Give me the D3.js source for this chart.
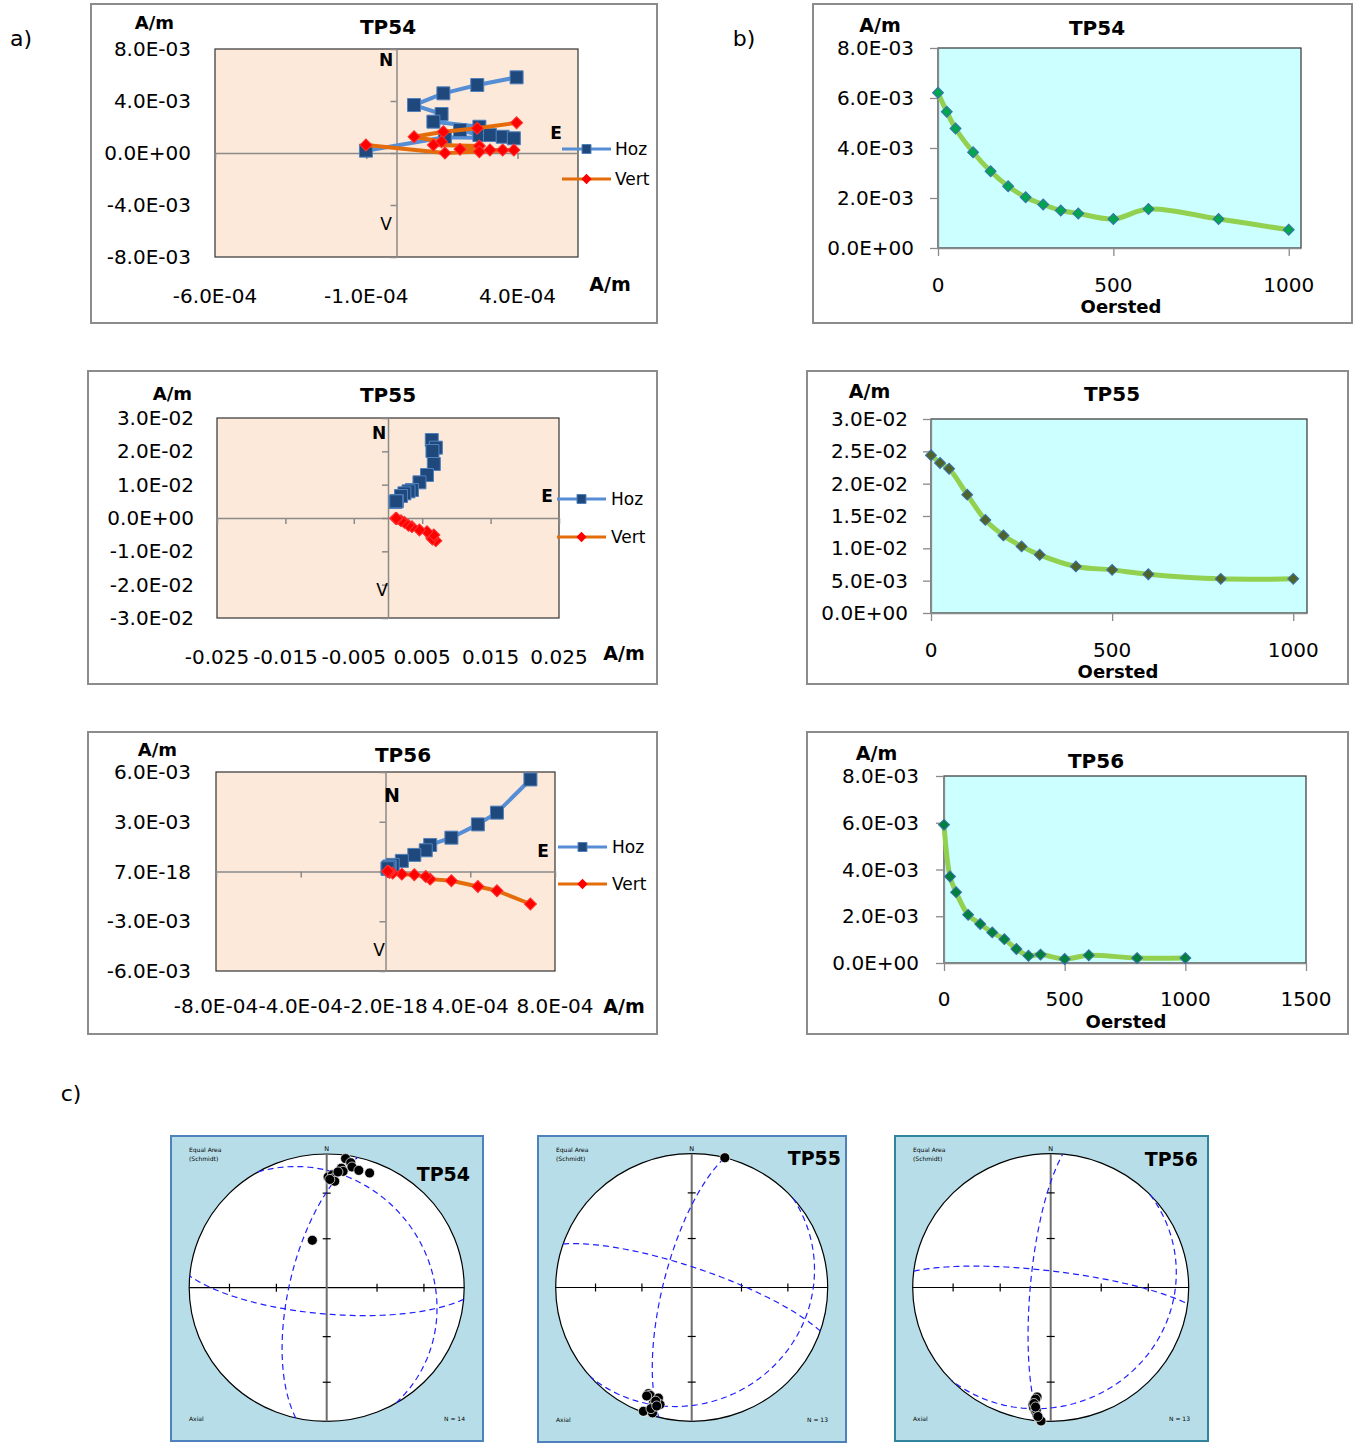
<!DOCTYPE html>
<html>
<head>
<meta charset="utf-8">
<script src="https://cdn.jsdelivr.net/npm/d3@7"></script>
<style>
  body { margin: 0; background: #fff; }
  text { font-family: "DejaVu Sans", sans-serif; fill: #000; }
</style>
</head>
<body>
<div class="chart"></div>
<script>
//----- a) Zijderveld data, A/m (one entry per demag step) -----
const tp54East  = [3.97e-4, 2.67e-4, 1.55e-4, 0.58e-4, 1.49e-4, 1.22e-4, 2.74e-4, 2.10e-4, 2.74e-4, 3.09e-4, 3.51e-4, 3.88e-4, 1.60e-4, -1.01e-4]
const tp54North = [5.82e-3, 5.23e-3, 4.59e-3, 3.69e-3, 3.00e-3, 2.41e-3, 2.02e-3, 1.77e-3, 1.38e-3, 1.38e-3, 1.25e-3, 1.13e-3, 1.21e-3, 0.18e-3]
const tp54Vert  = [2.33e-3, 1.90e-3, 1.64e-3, 1.25e-3, 0.87e-3, 0.62e-3, 0.54e-3, 0.28e-3, 0.10e-3, 0.23e-3, 0.23e-3, 0.23e-3, 0.0, 0.62e-3]

const tp55East  = [0.0064, 0.0070, 0.0065, 0.0067, 0.0057, 0.0046, 0.0035, 0.0030, 0.0024, 0.0019, 0.0013, 0.0011, 0.0012]
const tp55North = [0.0234, 0.0211, 0.0201, 0.0162, 0.0129, 0.0107, 0.0084, 0.0080, 0.0074, 0.0066, 0.0051, 0.0048, 0.0050]
const tp55Vert  = [-0.0060, -0.0068, -0.0063, -0.0051, -0.0041, -0.0036, -0.0026, -0.0022, -0.0013, -0.0008, -0.0002, -0.0001, -0.0001]

const tp56East  = [6.84e-4, 5.26e-4, 4.36e-4, 3.11e-4, 2.11e-4, 1.90e-4, 1.36e-4, 0.77e-4, 0.34e-4, 0.20e-4, 0.10e-4, 0.16e-4, 0.10e-4]
const tp56North = [5.55e-3, 3.55e-3, 2.84e-3, 2.04e-3, 1.60e-3, 1.28e-3, 1.00e-3, 0.64e-3, 0.40e-3, 0.30e-3, 0.15e-3, 0.28e-3, 0.20e-3]
const tp56Vert  = [-1.96e-3, -1.16e-3, -0.90e-3, -0.56e-3, -0.46e-3, -0.30e-3, -0.20e-3, -0.16e-3, -0.10e-3, -0.05e-3, 0.0, -0.02e-3, 0.02e-3]

//----- b) intensity vs AF field -----
const tp54Field = [0, 25, 50, 100, 150, 200, 250, 300, 350, 400, 500, 600, 800, 1000]
const tp54Int   = [6.21e-3, 5.45e-3, 4.78e-3, 3.83e-3, 3.07e-3, 2.47e-3, 2.03e-3, 1.74e-3, 1.50e-3, 1.38e-3, 1.16e-3, 1.56e-3, 1.16e-3, 0.73e-3]
const tp55Field = [0, 25, 50, 100, 150, 200, 250, 300, 400, 500, 600, 800, 1000]
const tp55Int   = [2.44e-2, 2.32e-2, 2.23e-2, 1.83e-2, 1.44e-2, 1.20e-2, 1.03e-2, 0.90e-2, 0.72e-2, 0.667e-2, 0.60e-2, 0.528e-2, 0.528e-2]
const tp56Field = [0, 25, 50, 100, 150, 200, 250, 300, 350, 400, 500, 600, 800, 1000]
const tp56Int   = [5.91e-3, 3.70e-3, 3.03e-3, 2.06e-3, 1.67e-3, 1.31e-3, 1.02e-3, 0.60e-3, 0.31e-3, 0.36e-3, 0.17e-3, 0.33e-3, 0.21e-3, 0.21e-3]

//----- c) stereonet directions (dec, inc) and planes (dip direction, dip) -----
const tp54Dec = [8.1, 10.6, 11.5, 6.8, 7.8, 14.9, 20.0, 0.7, 2.8, 3.2, 4.2, 1.6, 5.4, 343.6]
const tp54Inc = [2.8, 5.5, 8.7, 10.9, 13.2, 10.1, 9.6, 18.3, 16.6, 19.5, 21.3, 20.1, 14.1, 59.7]
const tp55Dec = [14.1, 201.9, 200.8, 196.5, 198.0, 194.9, 197.9, 201.0, 197.1, 197.3, 202.2, 198.3, 196.2]
const tp55Inc = [0.0, 15.6, 14.9, 14.9, 9.6, 10.4, 6.8, 1.0, 2.2, 12.0, 13.5, 5.2, 8.6]
const tp56Dec = [186.9, 187.8, 188.4, 187.8, 186.8, 186.0, 185.1, 184.0, 187.5, 188.0, 186.5, 185.5, 187.0]
const tp56Inc = [18.7, 15.2, 12.5, 10.0, 7.6, 5.0, 2.4, 0.0, 17.0, 13.5, 8.8, 3.6, 11.0]
const tp54DipDir = [60, 185, 283]
const tp54Dip    = [25, 74, 68]
const tp55DipDir = [284, 19, 138]
const tp55Dip    = [73, 78, 17]
const tp56DipDir = [275, 7, 136]
const tp56Dip    = [78, 80, 15]

//----- tick values and labels as printed -----
const tp54ZxTicks = [-6e-4, -1e-4, 4e-4]
const tp54ZxLabels = ['-6.0E-04', '-1.0E-04', '4.0E-04']
const tp54ZyTicks = [-8e-3, -4e-3, 0, 4e-3, 8e-3]
const tp54ZyLabels = ['-8.0E-03', '-4.0E-03', '0.0E+00', '4.0E-03', '8.0E-03']
const tp55ZxTicks = [-0.025, -0.015, -0.005, 0.005, 0.015, 0.025]
const tp55ZxLabels = ['-0.025', '-0.015', '-0.005', '0.005', '0.015', '0.025']
const tp55ZyTicks = [-0.03, -0.02, -0.01, 0, 0.01, 0.02, 0.03]
const tp55ZyLabels = ['-3.0E-02', '-2.0E-02', '-1.0E-02', '0.0E+00', '1.0E-02', '2.0E-02', '3.0E-02']
const tp56ZxTicks = [-8e-4, -4e-4, 0, 4e-4, 8e-4]
const tp56ZxLabels = ['-8.0E-04', '-4.0E-04', '-2.0E-18', '4.0E-04', '8.0E-04']
const tp56ZyTicks = [-6e-3, -3e-3, 0, 3e-3, 6e-3]
const tp56ZyLabels = ['-6.0E-03', '-3.0E-03', '7.0E-18', '3.0E-03', '6.0E-03']

const demagYTicks8 = [0, 2e-3, 4e-3, 6e-3, 8e-3]
const demagYLabels8 = ['0.0E+00', '2.0E-03', '4.0E-03', '6.0E-03', '8.0E-03']
const demagYTicks3 = [0, 0.005, 0.01, 0.015, 0.02, 0.025, 0.03]
const demagYLabels3 = ['0.0E+00', '5.0E-03', '1.0E-02', '1.5E-02', '2.0E-02', '2.5E-02', '3.0E-02']
const demagXTicks = [0, 500, 1000]
const demagXTicks15 = [0, 500, 1000, 1500]

//Create svg
const svg = d3.select('.chart').append('svg')
  .attr('width', 1356)
  .attr('height', 1447)
const rad = Math.PI / 180

function frame(f, stroke, fill) {
  svg.append('rect')
    .attr('x', f[0]).attr('y', f[1])
    .attr('width', f[2] - f[0]).attr('height', f[3] - f[1])
    .attr('fill', fill).attr('stroke', stroke).attr('stroke-width', 2)
}

function label(x, y, txt, size, weight, anchor) {
  return svg.append('text')
    .attr('x', x).attr('y', y)
    .attr('font-size', size)
    .attr('font-weight', weight || 'normal')
    .attr('text-anchor', anchor || 'middle')
    .attr('dominant-baseline', 'central')
    .text(txt)
}

//squares; diamonds are the same square turned 45 degrees
function marker(g, size, fill, stroke) {
  return g.append('path')
    .attr('d', d3.symbol(d3.symbolSquare, size)())
    .attr('fill', fill)
    .attr('stroke', stroke)
    .attr('stroke-width', 1)
}

//----- Zijderveld plot -----
function zijderveld(c) {
  frame(c.frame, '#8c8c8c', '#fff')
  const [px0, py0, px1, py1] = c.plot
  const x = d3.scaleLinear().domain(c.xDomain).range([px0, px1])
  const y = d3.scaleLinear().domain(c.yDomain).range([py1, py0])

  svg.append('rect')
    .attr('x', px0).attr('y', py0)
    .attr('width', px1 - px0).attr('height', py1 - py0)
    .attr('fill', '#fde9d9').attr('stroke', '#333').attr('stroke-width', 1.2)

  //axes through the origin
  const gx = svg.append('g')
    .attr('transform', `translate(0,${y(0)})`)
    .call(d3.axisBottom(x).tickValues(c.xTicks).tickFormat(() => '').tickSize(6).tickSizeOuter(0))
  const gy = svg.append('g')
    .attr('transform', `translate(${x(0)},0)`)
    .call(d3.axisLeft(y).tickValues(c.yTicks).tickFormat(() => '').tickSize(6).tickSizeOuter(0))
  gx.selectAll('path,line').attr('stroke', '#8a8a8a').attr('stroke-width', 1.5)
  gy.selectAll('path,line').attr('stroke', '#8a8a8a').attr('stroke-width', 1.5)

  //tick labels sit on the outer edge like in Excel
  c.yTicks.forEach((d, i) => label(c.yLabelX, y(d), c.yLabels[i], 20, 'normal', 'end'))
  c.xTicks.forEach((d, i) => label(x(d), c.xLabelY, c.xLabels[i], 20))

  label(c.unitTop[0], c.unitTop[1], 'A/m', 18, 'bold')
  label(c.title[0], c.title[1], c.name, 20, 'bold')
  label(c.unitRight[0], c.unitRight[1], 'A/m', 19, 'bold')
  label(c.N[0], c.N[1], 'N', c.nSize, 'bold')
  label(c.E[0], c.E[1], 'E', 17, 'bold')
  label(c.V[0], c.V[1], 'V', 17)

  const pts = c.east.map((e, i) => ({e: e, n: c.north[i], v: c.vert[i]}))

  //Hoz series
  svg.append('path')
    .attr('d', d3.line().x(d => x(d.e)).y(d => y(d.n))(pts))
    .attr('fill', 'none').attr('stroke', '#558ed5').attr('stroke-width', 4)
    .attr('stroke-linejoin', 'round')
  pts.forEach(d => {
    marker(svg, 169, '#1f497d', '#4f81bd')
      .attr('transform', `translate(${x(d.e)},${y(d.n)})`)
  })

  //Vert series
  svg.append('path')
    .attr('d', d3.line().x(d => x(d.e)).y(d => y(d.v))(pts))
    .attr('fill', 'none').attr('stroke', '#e46c0a').attr('stroke-width', 4)
    .attr('stroke-linejoin', 'round')
  pts.forEach(d => {
    marker(svg, 72, '#ff0000', '#ff3030')
      .attr('transform', `translate(${x(d.e)},${y(d.v)}) rotate(45)`)
  })

  //legend
  const lg = c.legend
  svg.append('line').attr('x1', lg.x0).attr('x2', lg.x1).attr('y1', lg.y1).attr('y2', lg.y1)
    .attr('stroke', '#558ed5').attr('stroke-width', 3)
  marker(svg, 81, '#1f497d', '#4f81bd')
    .attr('transform', `translate(${(lg.x0 + lg.x1) / 2},${lg.y1})`)
  label(lg.tx, lg.y1, 'Hoz', 17, 'normal', 'start')
  svg.append('line').attr('x1', lg.x0).attr('x2', lg.x1).attr('y1', lg.y2).attr('y2', lg.y2)
    .attr('stroke', '#e46c0a').attr('stroke-width', 3)
  marker(svg, 40, '#ff0000', '#ff0000')
    .attr('transform', `translate(${(lg.x0 + lg.x1) / 2},${lg.y2}) rotate(45)`)
  label(lg.tx, lg.y2, 'Vert', 17, 'normal', 'start')
}

//----- intensity decay plot -----
function demag(c) {
  frame(c.frame, '#8c8c8c', '#fff')
  const [px0, py0, px1, py1] = c.plot
  const x = d3.scaleLinear().domain(c.xDomain).range([px0, px1])
  const y = d3.scaleLinear().domain(c.yDomain).range([py1, py0])

  svg.append('rect')
    .attr('x', px0).attr('y', py0)
    .attr('width', px1 - px0).attr('height', py1 - py0)
    .attr('fill', '#ccffff').attr('stroke', '#333').attr('stroke-width', 1.2)

  const gy = svg.append('g')
    .attr('transform', `translate(${px0},0)`)
    .call(d3.axisLeft(y).tickValues(c.yTicks).tickFormat(() => '').tickSize(8).tickSizeOuter(0))
  const gx = svg.append('g')
    .attr('transform', `translate(0,${py1})`)
    .call(d3.axisBottom(x).tickValues(c.xTicks).tickFormat(() => '').tickSize(8).tickSizeOuter(0))
  gx.selectAll('path,line').attr('stroke', '#8a8a8a').attr('stroke-width', 1.3)
  gy.selectAll('path,line').attr('stroke', '#8a8a8a').attr('stroke-width', 1.3)

  c.yTicks.forEach((d, i) => label(c.yLabelX, y(d), c.yLabels[i], 20, 'normal', 'end'))
  c.xTicks.forEach(d => label(x(d), c.xLabelY, d, 20))

  label(c.unit[0], c.unit[1], 'A/m', 19, 'bold')
  label(c.title[0], c.title[1], c.name, 20, 'bold')
  label(c.oersted[0], c.oersted[1], 'Oersted', 18, 'bold')

  const pts = c.field.map((f, i) => [f, c.intensity[i]])
  svg.append('path')
    .attr('d', d3.line().x(d => x(d[0])).y(d => y(d[1])).curve(d3.curveCatmullRom)(pts))
    .attr('fill', 'none').attr('stroke', '#92d050').attr('stroke-width', 5)
  pts.forEach(d => {
    marker(svg, 60, c.markerFill, '#3a6fb0')
      .attr('transform', `translate(${x(d[0])},${y(d[1])}) rotate(45)`)
  })
}

//----- equal-area stereonet -----
function stereonet(c) {
  frame(c.frame, c.border, '#b7dee8')
  const sx = d3.scaleLinear().domain([-1, 1]).range([c.cx - c.rx, c.cx + c.rx])
  const sy = d3.scaleLinear().domain([-1, 1]).range([c.cy + c.ry, c.cy - c.ry])
  const radius = inc => Math.SQRT2 * Math.sin((90 - inc) / 2 * rad)
  const proj = (dec, inc) => {
    const r = radius(inc)
    return [sx(r * Math.sin(dec * rad)), sy(r * Math.cos(dec * rad))]
  }

  svg.append('ellipse')
    .attr('cx', sx(0)).attr('cy', sy(0)).attr('rx', c.rx).attr('ry', c.ry)
    .attr('fill', '#fff').attr('stroke', '#000').attr('stroke-width', 1.2)

  //cross and 30/60 degree ticks
  svg.append('line').attr('x1', sx(-1)).attr('x2', sx(1)).attr('y1', sy(0)).attr('y2', sy(0))
    .attr('stroke', '#000').attr('stroke-width', 1.2)
  svg.append('line').attr('x1', sx(0)).attr('x2', sx(0)).attr('y1', sy(1)).attr('y2', sy(-1))
    .attr('stroke', '#6e6e6e').attr('stroke-width', 2)
  const tickR = [30, 60].map(radius)
  tickR.concat(tickR.map(r => -r)).forEach(r => {
    svg.append('line').attr('x1', sx(r)).attr('x2', sx(r)).attr('y1', sy(0) - 4).attr('y2', sy(0) + 4)
      .attr('stroke', '#000').attr('stroke-width', 1.2)
    svg.append('line').attr('x1', sx(0) - 4).attr('x2', sx(0) + 4).attr('y1', sy(r)).attr('y2', sy(r))
      .attr('stroke', '#000').attr('stroke-width', 1.2)
  })

  //great circles (lower hemisphere)
  c.dipDir.forEach((dd, k) => {
    const dip = c.dip[k]
    const s = [Math.cos((dd - 90) * rad), Math.sin((dd - 90) * rad), 0]
    const dv = [Math.cos(dip * rad) * Math.cos(dd * rad), Math.cos(dip * rad) * Math.sin(dd * rad), Math.sin(dip * rad)]
    const gc = d3.range(0, 181, 2).map(t => {
      const v = s.map((a, j) => Math.cos(t * rad) * a + Math.sin(t * rad) * dv[j])
      const inc = Math.asin(Math.max(-1, Math.min(1, v[2]))) / rad
      const dec = Math.atan2(v[1], v[0]) / rad
      return proj(dec, inc)
    })
    svg.append('path')
      .attr('d', d3.line()(gc))
      .attr('fill', 'none').attr('stroke', '#1f1fff').attr('stroke-width', 1.2)
      .attr('stroke-dasharray', '6,4')
  })

  //directions
  svg.selectAll(null)
    .data(c.dec.map((d, i) => proj(d, c.inc[i])))
    .enter()
    .append('circle')
    .attr('cx', d => d[0]).attr('cy', d => d[1]).attr('r', 5)
    .attr('fill', '#000').attr('stroke', '#fff').attr('stroke-width', 0.7)

  const f = c.frame
  svg.append('text').attr('x', f[0] + 18).attr('y', f[1] + 16).attr('font-size', 6)
    .attr('font-family', 'Liberation Sans').attr('fill', '#333').text('Equal Area')
  svg.append('text').attr('x', f[0] + 18).attr('y', f[1] + 25).attr('font-size', 6)
    .attr('font-family', 'Liberation Sans').attr('fill', '#333').text('(Schmidt)')
  svg.append('text').attr('x', sx(0)).attr('y', f[1] + 15).attr('font-size', 6.5)
    .attr('text-anchor', 'middle').attr('font-family', 'Liberation Sans').attr('fill', '#333').text('N')
  svg.append('text').attr('x', f[0] + 18).attr('y', f[3] - 20).attr('font-size', 6)
    .attr('font-family', 'Liberation Sans').attr('fill', '#333').text('Axial')
  svg.append('text').attr('x', f[2] - 18).attr('y', f[3] - 20).attr('font-size', 6)
    .attr('text-anchor', 'end').attr('font-family', 'Liberation Sans').attr('fill', '#333').text('N = ' + c.dec.length)
  svg.append('text').attr('x', c.titleX).attr('y', c.titleY).attr('font-size', 19)
    .attr('text-anchor', 'end').attr('font-weight', 'bold').attr('font-family', 'Liberation Sans').text(c.name)
}

//panel letters
label(21, 38, 'a)', 22)
label(744, 38, 'b)', 22)
label(71, 1093, 'c)', 22)

zijderveld({
  name: 'TP54', east: tp54East, north: tp54North, vert: tp54Vert,
  frame: [91, 4, 657, 323], plot: [215, 49, 578, 257],
  xDomain: [-6e-4, 6e-4], yDomain: [-8e-3, 8e-3],
  xTicks: tp54ZxTicks, xLabels: tp54ZxLabels, yTicks: tp54ZyTicks, yLabels: tp54ZyLabels,
  yLabelX: 191, xLabelY: 296, unitTop: [154.5, 22], title: [388, 27], unitRight: [610, 284],
  N: [386, 60], E: [556, 133], V: [386, 224], nSize: 17,
  legend: {x0: 562, x1: 611, tx: 615, y1: 149, y2: 179}
})
zijderveld({
  name: 'TP55', east: tp55East, north: tp55North, vert: tp55Vert,
  frame: [88, 371, 657, 684], plot: [217, 418, 559, 618],
  xDomain: [-0.025, 0.025], yDomain: [-0.03, 0.03],
  xTicks: tp55ZxTicks, xLabels: tp55ZxLabels, yTicks: tp55ZyTicks, yLabels: tp55ZyLabels,
  yLabelX: 194, xLabelY: 657, unitTop: [172.5, 393], title: [388, 395], unitRight: [624, 653],
  N: [379, 433], E: [547, 496], V: [382, 590], nSize: 17,
  legend: {x0: 557, x1: 606, tx: 611, y1: 499, y2: 537}
})
zijderveld({
  name: 'TP56', east: tp56East, north: tp56North, vert: tp56Vert,
  frame: [88, 732, 657, 1034], plot: [216, 772, 555, 971],
  xDomain: [-8e-4, 8e-4], yDomain: [-6e-3, 6e-3],
  xTicks: tp56ZxTicks, xLabels: tp56ZxLabels, yTicks: tp56ZyTicks, yLabels: tp56ZyLabels,
  yLabelX: 191, xLabelY: 1006, unitTop: [157.5, 749], title: [403, 755], unitRight: [624, 1006],
  N: [392, 795], E: [543, 851], V: [379, 950], nSize: 19,
  legend: {x0: 558, x1: 607, tx: 612, y1: 847, y2: 884}
})

demag({
  name: 'TP54', field: tp54Field, intensity: tp54Int, markerFill: '#00a550',
  frame: [813, 4, 1352, 323], plot: [938, 48, 1301, 248],
  xDomain: [0, 1035], yDomain: [0, 8e-3], xTicks: demagXTicks,
  yTicks: demagYTicks8, yLabels: demagYLabels8,
  yLabelX: 914, xLabelY: 285, unit: [880, 25], title: [1097, 28], oersted: [1121, 306]
})
demag({
  name: 'TP55', field: tp55Field, intensity: tp55Int, markerFill: '#4f6228',
  frame: [807, 371, 1348, 684], plot: [931, 419, 1307, 613],
  xDomain: [0, 1038], yDomain: [0, 0.03], xTicks: demagXTicks,
  yTicks: demagYTicks3, yLabels: demagYLabels3,
  yLabelX: 908, xLabelY: 650, unit: [869.5, 391], title: [1112, 394], oersted: [1118, 671]
})
demag({
  name: 'TP56', field: tp56Field, intensity: tp56Int, markerFill: '#00803a',
  frame: [807, 732, 1348, 1034], plot: [944, 776, 1306, 963],
  xDomain: [0, 1500], yDomain: [0, 8e-3], xTicks: demagXTicks15,
  yTicks: demagYTicks8, yLabels: demagYLabels8,
  yLabelX: 919, xLabelY: 999, unit: [876.5, 753], title: [1096, 761], oersted: [1126, 1021]
})

stereonet({
  name: 'TP54', dec: tp54Dec, inc: tp54Inc, dipDir: tp54DipDir, dip: tp54Dip,
  frame: [171, 1136, 483, 1441], border: '#4f81bd',
  cx: 326.7, cy: 1287.7, rx: 137.5, ry: 133.7, titleX: 470, titleY: 1181
})
stereonet({
  name: 'TP55', dec: tp55Dec, inc: tp55Inc, dipDir: tp55DipDir, dip: tp55Dip,
  frame: [538, 1136, 846, 1442], border: '#4f81bd',
  cx: 691.7, cy: 1287.5, rx: 136, ry: 133.8, titleX: 841, titleY: 1165
})
stereonet({
  name: 'TP56', dec: tp56Dec, inc: tp56Inc, dipDir: tp56DipDir, dip: tp56Dip,
  frame: [895, 1136, 1208, 1441], border: '#31849b',
  cx: 1050.7, cy: 1287.5, rx: 138, ry: 133.8, titleX: 1198, titleY: 1166
})
</script>
</body>
</html>
